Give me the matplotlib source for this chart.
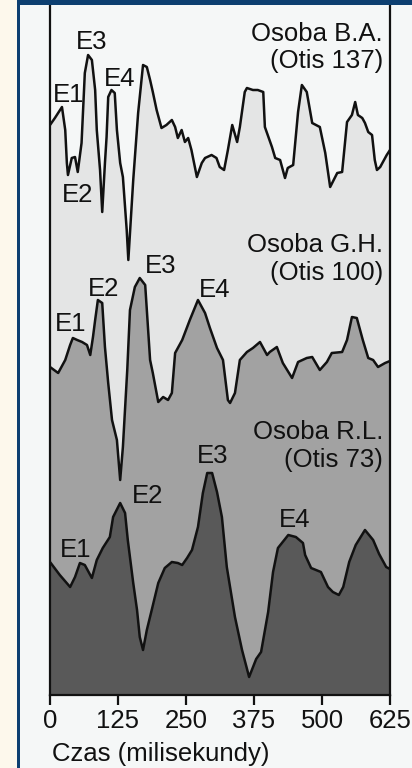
import matplotlib
matplotlib.use("Agg")
import matplotlib.pyplot as plt
from matplotlib.patches import Rectangle

# Evoked response traces, time in ms, amplitude in arbitrary units
time_ba = [0, 9, 22, 28, 31, 33, 40, 46, 51, 58, 64, 70, 77, 83, 86, 92, 96,
           101, 104, 107, 113, 119, 123, 129, 134, 141, 144, 153, 162, 171,
           178, 184, 189, 196, 205, 214, 224, 230, 235, 242, 248, 254, 260,
           270, 279, 285, 297, 306, 312, 320, 327, 335, 344, 349, 358, 362,
           373, 382, 392, 395, 408, 414, 423, 432, 437, 447, 456, 463, 472,
           482, 496, 506, 515, 528, 537, 546, 555, 561, 566, 574, 579, 585,
           592, 597, 601, 607, 619, 625]
amp_ba = [570, 577, 588, 565, 532, 520, 537, 538, 523, 552, 622, 640, 635,
          605, 565, 525, 483, 532, 558, 598, 605, 602, 565, 532, 518, 465,
          435, 515, 582, 630, 628, 615, 603, 585, 567, 570, 575, 568, 557,
          565, 553, 557, 545, 518, 532, 537, 540, 537, 528, 525, 545, 570,
          553, 568, 603, 607, 605, 605, 603, 568, 548, 537, 535, 517, 527,
          530, 583, 610, 603, 572, 568, 542, 508, 522, 523, 573, 580, 593,
          580, 577, 572, 563, 560, 535, 525, 528, 540, 545]

time_gh = [0, 15, 28, 37, 42, 50, 59, 68, 74, 79, 83, 88, 96, 101, 107, 114,
           123, 129, 134, 142, 147, 156, 165, 175, 178, 184, 189, 199, 208,
           217, 224, 230, 243, 257, 272, 285, 294, 307, 318, 327, 331, 340,
           349, 362, 373, 386, 399, 404, 417, 428, 445, 456, 472, 482, 496,
           509, 518, 537, 546, 555, 564, 575, 585, 594, 603, 616, 625]
amp_gh = [328, 322, 335, 350, 357, 355, 353, 350, 340, 358, 375, 395, 392,
          348, 312, 275, 255, 215, 248, 325, 385, 408, 417, 410, 385, 335,
          322, 293, 298, 295, 302, 342, 355, 375, 395, 382, 367, 347, 335,
          295, 292, 302, 335, 343, 347, 353, 340, 343, 348, 332, 317, 333,
          337, 338, 325, 333, 342, 343, 355, 378, 377, 355, 337, 335, 328,
          332, 334]

time_rl = [0, 18, 37, 46, 55, 64, 77, 86, 97, 110, 116, 129, 138, 143, 153,
           160, 165, 171, 178, 187, 199, 211, 224, 235, 243, 252, 261, 272,
           281, 289, 298, 307, 316, 325, 340, 353, 366, 379, 388, 401, 410,
           419, 438, 452, 465, 469, 480, 489, 498, 511, 520, 531, 539, 550,
           562, 579, 594, 605, 618, 625]
amp_rl = [133, 120, 108, 118, 132, 130, 117, 135, 147, 158, 178, 192, 182,
          155, 112, 85, 58, 45, 65, 85, 112, 127, 133, 132, 130, 137, 145,
          168, 202, 222, 222, 203, 178, 128, 78, 45, 18, 36, 43, 83, 123,
          147, 160, 158, 152, 140, 127, 125, 123, 108, 103, 100, 108, 133,
          150, 165, 155, 141, 128, 126]

names = ["Osoba B.A.", "Osoba G.H.", "Osoba R.L."]
scores = ["(Otis 137)", "(Otis 100)", "(Otis 73)"]
peaks = ["E1", "E2", "E3", "E4"]
ticks = [0, 125, 250, 375, 500, 625]

# label anchors (time, amplitude), left/baseline
peak_pos = [
    [(6, 593), (22, 493), (48, 646), (99, 609)],
    [(9, 364), (69, 399), (175, 422), (273, 398)],
    [(18, 138), (150, 192), (270, 232), (420, 168)],
]
name_y = [(654, 627), (443, 415), (256, 228)]

plt.rcParams['font.family'] = ['Liberation Sans', 'DejaVu Sans']

fig = plt.figure(figsize=(4.12, 7.68), dpi=100)
fig.patch.set_facecolor('#fdf8ec')
fig.patches.append(Rectangle((20 / 412, 0), 1, 1, transform=fig.transFigure,
                             facecolor='#f5f7f7', edgecolor='none', zorder=-5))
fig.patches.append(Rectangle((17 / 412, 0), 3 / 412, 1, transform=fig.transFigure,
                             facecolor='#0d3f70', edgecolor='none', zorder=5))
fig.patches.append(Rectangle((17 / 412, 763 / 768), 1, 5 / 768,
                             transform=fig.transFigure,
                             facecolor='#0d3f70', edgecolor='none', zorder=5))

ax = fig.add_axes([50 / 412, 73 / 768, 340 / 412, 695 / 768])
ax.set_facecolor('#f5f7f7')

ink = '#111111'
traces = [(time_ba, amp_ba, '#e4e5e5'),
          (time_gh, amp_gh, '#a2a2a2'),
          (time_rl, amp_rl, '#595959')]
for t, a, c in traces:
    ax.fill_between(t, a, 0, color=c, lw=0, zorder=1)
for t, a, c in traces:
    ax.plot(t, a, color=ink, lw=1.8, zorder=3)

fs = 18.5
for i in range(3):
    for lab, (x, y) in zip(peaks, peak_pos[i]):
        ax.text(x, y, lab, ha='left', va='baseline', fontsize=fs,
                color=ink, zorder=4)
    ax.text(612, name_y[i][0], names[i], ha='right', va='baseline',
            fontsize=fs, color=ink, zorder=4)
    ax.text(612, name_y[i][1], scores[i], ha='right', va='baseline',
            fontsize=fs, color=ink, zorder=4)

ax.set_xlim(0, 625)
ax.set_ylim(0, 695)
ax.set_xticks(ticks)
ax.set_xticklabels([str(v) for v in ticks])
ax.set_yticks([])
ax.tick_params(axis='x', direction='out', length=7, width=1.6, pad=3,
               labelsize=fs, colors=ink)
for side in ['left', 'right', 'bottom']:
    ax.spines[side].set_linewidth(1.6)
    ax.spines[side].set_color(ink)
ax.spines['top'].set_visible(False)

fig.text(52 / 412, 7 / 768, 'Czas (milisekundy)', ha='left', va='baseline',
         fontsize=fs, color=ink)

fig.savefig('out.png', dpi=100, facecolor=fig.get_facecolor())
